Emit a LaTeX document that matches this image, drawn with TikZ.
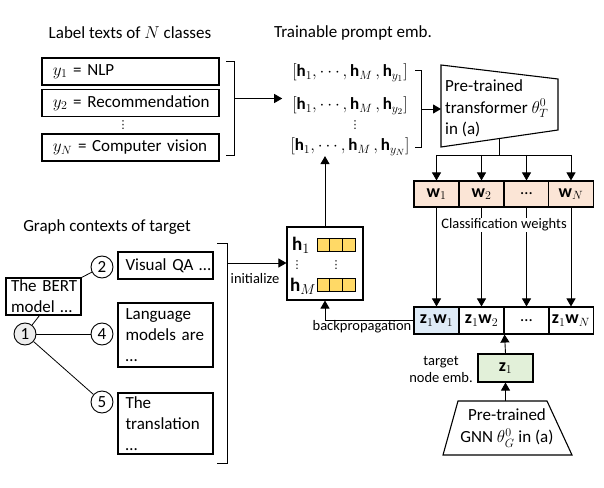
\documentclass[tikz,border=0pt]{standalone}
\usepackage{fontspec}
\setmainfont{Carlito}
\newfontfamily\symfont{DejaVu Sans}
\usetikzlibrary{arrows.meta, positioning}

\definecolor{peach}{HTML}{FBE5D6}
\definecolor{paleblue}{HTML}{DEEBF7}
\definecolor{palegreen}{HTML}{E2F0D9}
\definecolor{gold}{HTML}{FFD966}
\definecolor{nodegray}{HTML}{EDEDED}

\tikzset{
  big/.style={font=\fontsize{17bp}{21bp}\selectfont},
  small/.style={font=\fontsize{14.5bp}{17bp}\selectfont},
  mathbig/.style={font=\fontsize{18bp}{21bp}\selectfont},
  dots/.style={font=\fontsize{11bp}{12bp}\symfont, inner sep=0pt},
  box/.style={draw, line width=1.1bp},
  labelbox/.style={box, big, minimum height=27bp, text width=155bp, inner xsep=11bp, inner ysep=0pt, align=left},
  ctxbox/.style={box, big, text width=80bp, inner xsep=7.5bp, inner ysep=0pt, align=left},
  gnode/.style={draw, line width=0.9bp, circle, big, minimum size=22bp, inner sep=0pt, fill=white},
  cell/.style={box, mathbig, minimum width=45bp, minimum height=26bp, inner sep=0pt},
  prompt/.style={big, inner sep=0pt},
  link/.style={line width=0.8bp},
  arr/.style={line width=0.9bp, -{Triangle[length=8bp,width=9bp]}},
  brace/.style={line width=0.8bp},
}

\begin{document}
\begin{tikzpicture}[x=1bp, y=-1bp]
\useasboundingbox (0,0) rectangle (604,488);

% titles
\node[big] (ttl) at (130,33) {Label texts of $N$ classes};
\node[big] (ttp) at (353,33) {Trainable prompt emb.};
\node[big] (ttg) at (107,227) {Graph contexts of target};

% label texts
\node[labelbox] (y1) at (130.5,71.5) {\mbox{$y_1$ = NLP}};
\node[labelbox] (y2) at (130.5,103) {\mbox{$y_2$ = Recommendation}};
\node[dots] (ydots) at (123,125) {⋮};
\node[labelbox] (yN) at (130.5,147.5) {\mbox{$y_N$ = Computer vision}};
\draw[brace] (226,61) -- (234,61) -- (234,155) -- (226,155);
\coordinate (brk1) at (234,98.5);

% trainable prompts
\node[prompt] (p1) at (350,73) {$\big[\mathbf{h}_1, \cdots, \mathbf{h}_M\,, \mathbf{h}_{y_1}\big]$};
\node[prompt] (p2) at (350,106) {$\big[\mathbf{h}_1, \cdots, \mathbf{h}_M\,, \mathbf{h}_{y_2}\big]$};
\node[dots] (pdots) at (355,125) {⋮};
\node[prompt] (p3) at (350,147) {$\big[\mathbf{h}_1, \cdots, \mathbf{h}_M\,, \mathbf{h}_{y_N}\big]$};
\draw[arr] (brk1) -- ([xshift=-10bp]p2.west |- brk1);
\draw[brace] (415,70) -- (421,70) -- (421,147) -- (415,147);
\coordinate (brk2) at (421,109);

% transformer
\draw[box] (441,65) -- (558,79) -- (558,130) -- (441,147) -- cycle;
\coordinate (trfin) at (441,109);
\coordinate (trfout) at (499,138.6);
\node[font=\fontsize{17bp}{21.5bp}\selectfont, align=left, anchor=west, inner sep=0pt] (trf) at (445,108.5)
  {Pre-trained\\transformer $\theta_T^0$\\in (a)};
\draw[arr] (brk2) -- (trfin);

% classification weights
\node[cell, fill=peach] (w1) at (436.5,194) {$\mathbf{w}_1$};
\node[cell, fill=peach] (w2) at (481.5,194) {$\mathbf{w}_2$};
\node[cell, fill=peach, big] (w3) at (526.5,194) {…};
\node[cell, fill=peach] (wN) at (571,194) {$\mathbf{w}_N$};
\coordinate (split) at (499,155);
\draw[link] (trfout) -- (split);
\draw[link] (w1.north |- split) -- (wN.north |- split);
\foreach \w in {w1,w2,w3,wN}
  \draw[arr] (\w.north |- split) -- (\w.north);

% logits
\node[cell, fill=paleblue, minimum height=27bp] (zw1) at (436.5,320.5) {$\mathbf{z}_1\mathbf{w}_1$};
\node[cell, minimum height=27bp] (zw2) at (481.5,320.5) {$\mathbf{z}_1\mathbf{w}_2$};
\node[cell, big, minimum height=27bp] (zw3) at (526.5,320.5) {…};
\node[cell, minimum height=27bp] (zwN) at (571,320.5) {$\mathbf{z}_1\mathbf{w}_N$};
\draw[arr] (w1) -- (zw1);
\draw[arr] (w2) -- (zw2);
\draw[arr] (w3) -- (zw3);
\draw[arr] (wN) -- (zwN);
\node[small, fill=white, inner sep=1bp] (cw) at (504,225) {Classification weights};

% target node
\node[box, mathbig, fill=palegreen, minimum width=55bp, minimum height=28bp, inner sep=0pt] (zt) at (505.5,368) {$\mathbf{z}_1$};
\node[small, align=center] (ztl) at (441,369) {target\\node emb.};
\draw[box] (458,401) -- (547,401) -- (572,455) -- (443,455) -- cycle;
\coordinate (gnnout) at (505.5,401);
\node[font=\fontsize{17bp}{22bp}\selectfont, align=center] (gnn) at (507,428) {Pre-trained\\GNN $\theta_G^0$ in (a)};
\draw[arr] (gnnout) -- (zt.south);
\draw[arr] (zt.north) -- (zw2.south east);

% prompt tokens
\node[box, fill=white, minimum width=76bp, minimum height=73bp] (hbox) at (325,263.5) {};
\node[font=\fontsize{19bp}{21bp}\selectfont, inner sep=0pt] (h1) at (301,245) {$\mathbf{h}_1$};
\node[font=\fontsize{19bp}{21bp}\selectfont, inner sep=0pt] (hM) at (303,286) {$\mathbf{h}_M$};
\foreach \i in {0,1,2} {
  \draw[line width=0.9bp, fill=gold] (317+12.67*\i,238) rectangle ++(12.67,13);
  \draw[line width=0.9bp, fill=gold] (317+12.67*\i,278) rectangle ++(12.67,13);
}
\node[dots] (hd1) at (297,265) {⋮};
\node[dots] (hd2) at (336,265) {⋮};
\draw[arr] (hbox.north) -- (hbox.north |- p3.south);
\draw[arr] (zw1.west) -| (hbox.south);
\node[small] (bp) at (362,327) {backpropagation};

% graph contexts
\node[gnode, fill=nodegray] (n1) at (25,334) {1};
\node[gnode] (n2) at (102,267) {2};
\node[gnode] (n4) at (102,334) {4};
\node[gnode] (n5) at (102,402) {5};
\node[box, big, fill=white, text width=65bp, inner xsep=5bp, inner ysep=2bp, align=left] (bert) at (43.5,296.5) {\mbox{The BERT}\\\mbox{model …}};
\draw[link] (n1) -- (n4);
\draw[link] (n1) -- (n5);
\draw[link] (n2) -- (bert.north east);
\draw[link] ([xshift=-4bp]bert.south) -- (n1);
\node[ctxbox, minimum height=27bp] (c2) at (165.5,265.5) {\mbox{Visual QA …}};
\node[ctxbox, minimum height=64bp] (c4) at (165.5,335) {Language\\\mbox{models are}\\…};
\node[ctxbox, minimum height=61bp] (c5) at (165.5,423.5) {The\\translation\\…};
\draw[brace] (217,243) -- (227,243) -- (227,463) -- (217,463);
\coordinate (brk3) at (227,263);
\draw[arr] (brk3) -- (hbox.west |- brk3);
\node[small] (init) at (255,279) {initialize};
\end{tikzpicture}
\end{document}
